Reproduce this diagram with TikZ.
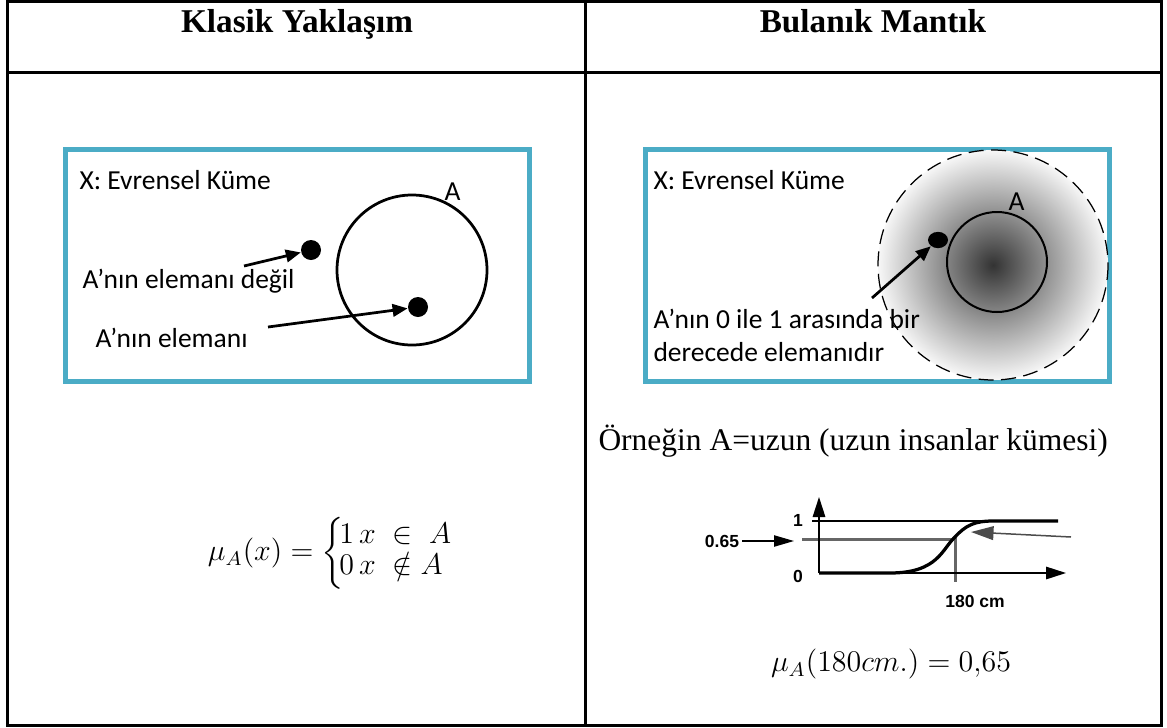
\documentclass[tikz,border=0pt]{standalone}
\usepackage{amsmath,amssymb}
\usepackage{fontspec}
\setmainfont{Liberation Serif}
\newfontfamily\calibri{Carlito}
\newfontfamily\arialf{Liberation Sans}
\usetikzlibrary{arrows.meta,positioning,shapes.geometric,calc}
\definecolor{boxblue}{RGB}{75,172,198}
\pgfdeclareradialshading{fuzzyset}{\pgfpoint{0bp}{0bp}}{color(0bp)=(black!80); color(12bp)=(black!42); color(26bp)=(white); color(50bp)=(white)}

\begin{document}
\begin{tikzpicture}[
    x=0.4pt, y=-0.4pt,
    rule/.style={line width=1.2pt},
    setbox/.style={draw=boxblue, line width=2pt},
    head/.style={font=\bfseries\fontsize{13.3}{16}\selectfont, anchor=base},
    lbl/.style={font=\calibri\fontsize{11}{13.2}\selectfont, inner sep=0pt, anchor=west, align=left},
    elem/.style={circle, fill=black, inner sep=0pt, minimum size=8pt},
    ptr/.style={line width=1.1pt, -{Triangle[length=6pt,width=5pt]}},
    axis/.style={line width=0.6pt, -{Triangle[length=8pt,width=5pt]}},
    tick/.style={font=\arialf\bfseries\fontsize{7}{8}\selectfont, inner sep=1pt},
    eq/.style={font=\fontsize{12}{14}\selectfont}
  ]
  \useasboundingbox (0,0) rectangle (1167,727);

  % table
  \draw[rule] (7,1) rectangle (1161,725);
  \draw[rule] (7,72) -- (1161,72);
  \draw[rule] (585,1) -- (585,725);
  \node[head] (hclassic) at (297,32) {Klasik Yaklaşım};
  \node[head] (hfuzzy) at (873,32) {Bulanık Mantık};

  % classic set
  \draw[setbox] (65,149) rectangle (529,381);
  \node[lbl] (univL) at (79,180) {X: Evrensel Küme};
  \node[draw, circle, line width=1.1pt, minimum size=60pt, inner sep=0pt] (setA) at (412,270) {};
  \node[lbl] (nameA) at (444,192) {A};
  \node[elem] (out) at (311,250) {};
  \node[elem] (in) at (418,307) {};
  \node[lbl] (txtout) at (82,281) {A’nın elemanı değil};
  \node[lbl] (txtin) at (95,338) {A’nın elemanı};
  \coordinate (fromout) at (244,266);
  \coordinate (fromin) at (268,327);
  \draw[ptr] (fromout) -- (out);
  \draw[ptr] (fromin) -- (in);

  % fuzzy set
  \draw[setbox] (645,149) rectangle (1109,381);
  \shade[shading=fuzzyset] (993,265) circle[radius=115];
  \draw[line width=0.5pt, dash pattern=on 6pt off 3pt] (993,265) circle[radius=115];
  \node[draw, circle, line width=0.8pt, minimum size=40pt, inner sep=0pt] (fuzzA) at (997,262) {};
  \node[lbl] (univR) at (653,180) {X: Evrensel Küme};
  \node[lbl] (nameF) at (1008,202) {A};
  \node[ellipse, fill=black, inner sep=0pt, minimum width=8pt, minimum height=6.5pt] (part) at (938,240) {};
  \node[lbl] (txtpart) at (653,335) {A’nın 0 ile 1 arasında bir\\derecede elemanıdır};
  \coordinate (frompart) at (872,298);
  \draw[ptr] (frompart) -- (part);

  % example
  \node[font=\fontsize{12.6}{15}\selectfont, anchor=west, inner sep=0pt] (ex) at (598,441) {Örneğin A=uzun (uzun insanlar kümesi)};

  % membership curve
  \coordinate (o) at (819,573);
  \coordinate (xend) at (1066,573);
  \coordinate (yend) at (819,497);
  \draw[line width=0.5pt] (812,521) -- (1058,521);
  \draw[line width=1.2pt, black!60] (802,539) -- (955,539) -- (955,582);
  \draw[axis] (o) -- (xend);
  \draw[axis] (o) -- (yend);
  \draw[line width=1.3pt] (o) -- (890,573) .. controls (938,573) and (942,549) .. (955,537)
    .. controls (966,525) and (975,521) .. (993,521) -- (1058,521);
  \node[tick] (one) at (798,520) {1};
  \node[tick] (zero) at (798,576) {0};
  \node[tick] (cm) at (975,601) {180 cm};
  \node[tick] (val) at (722,541) {0.65};
  \coordinate (valtip) at (794,541);
  \draw[line width=0.6pt, -{Triangle[length=8pt,width=4.5pt]}] (val) -- (valtip);
  \coordinate (rfrom) at (1071,537);
  \coordinate (rtip) at (971,532);
  \draw[line width=0.6pt, black!70, -{Triangle[length=9pt,width=5.5pt]}] (rfrom) -- (rtip);

  % formulas
  \node[eq] (muL) at (331,553) {\renewcommand{\arraystretch}{0.85}$\mu_A(x) = \left\{\!\begin{array}{@{}l@{}} 1\,x\;\in\;A \\ 0\,x\;\notin A \end{array}\right.$};
  \node[eq] (muR) at (891,664) {$\mu_A(180cm.) = 0{,}65$};
\end{tikzpicture}
\end{document}
